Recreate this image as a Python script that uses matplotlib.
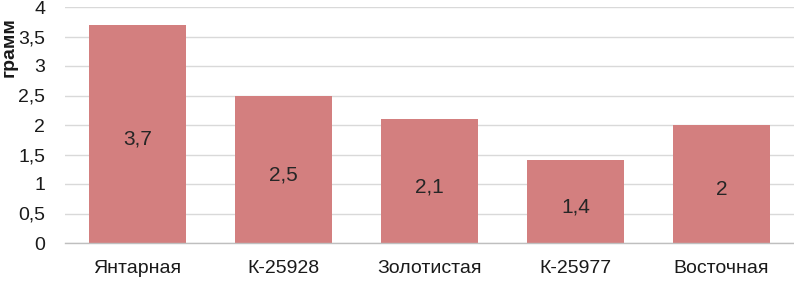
import matplotlib
matplotlib.use('Agg')
import matplotlib.pyplot as plt

plt.rcParams['font.family'] = ['Liberation Sans', 'DejaVu Sans']

sorts = ['Янтарная', 'К-25928', 'Золотистая', 'К-25977', 'Восточная']
mass = [3.7, 2.5, 2.1, 1.4, 2.0]

W, H = 794, 282
fig = plt.figure(figsize=(W / 100, H / 100), dpi=100)
ax = fig.add_axes([64.5 / W, (H - 243) / H, (794.5 - 64.5) / W, (243 - 7) / H])

bars = ax.bar(range(len(sorts)), mass, width=0.66, color='#d37f7f', zorder=2)

# подписи значений в середине столбцов (чуть ниже центра, как в оригинале)
for b, v in zip(bars, mass):
    txt = ('%g' % v).replace('.', ',')
    ax.annotate(txt, (b.get_x() + b.get_width() / 2, v / 2), xytext=(0, -4),
                textcoords='offset points', ha='center', va='center',
                fontsize=15, color='#262626', zorder=3)

ax.set_xlim(-0.5, len(sorts) - 0.5)
ax.set_ylim(0, 4)
yt = [i * 0.5 for i in range(9)]
ax.set_yticks(yt)
ax.set_yticklabels([('%g' % t).replace('.', ',') for t in yt])
ax.set_xticks(range(len(sorts)))
ax.set_xticklabels(sorts)
ax.tick_params(axis='y', length=0, pad=14, labelsize=14, labelcolor='#1a1a1a')
ax.tick_params(axis='x', length=0, pad=12, labelsize=14, labelcolor='#1a1a1a')

ax.grid(axis='y', color='#d9d9d9', linewidth=1, zorder=0)
for s in ['left', 'right', 'top']:
    ax.spines[s].set_visible(False)
ax.spines['bottom'].set_color('#bfbfbf')
ax.spines['bottom'].set_linewidth(1)

fig.text(1 / W, 1 - 47 / H, 'грамм', rotation=90, ha='left', va='center',
         fontsize=14, fontweight='bold', color='#1a1a1a')

fig.savefig('out.png', dpi=100)
